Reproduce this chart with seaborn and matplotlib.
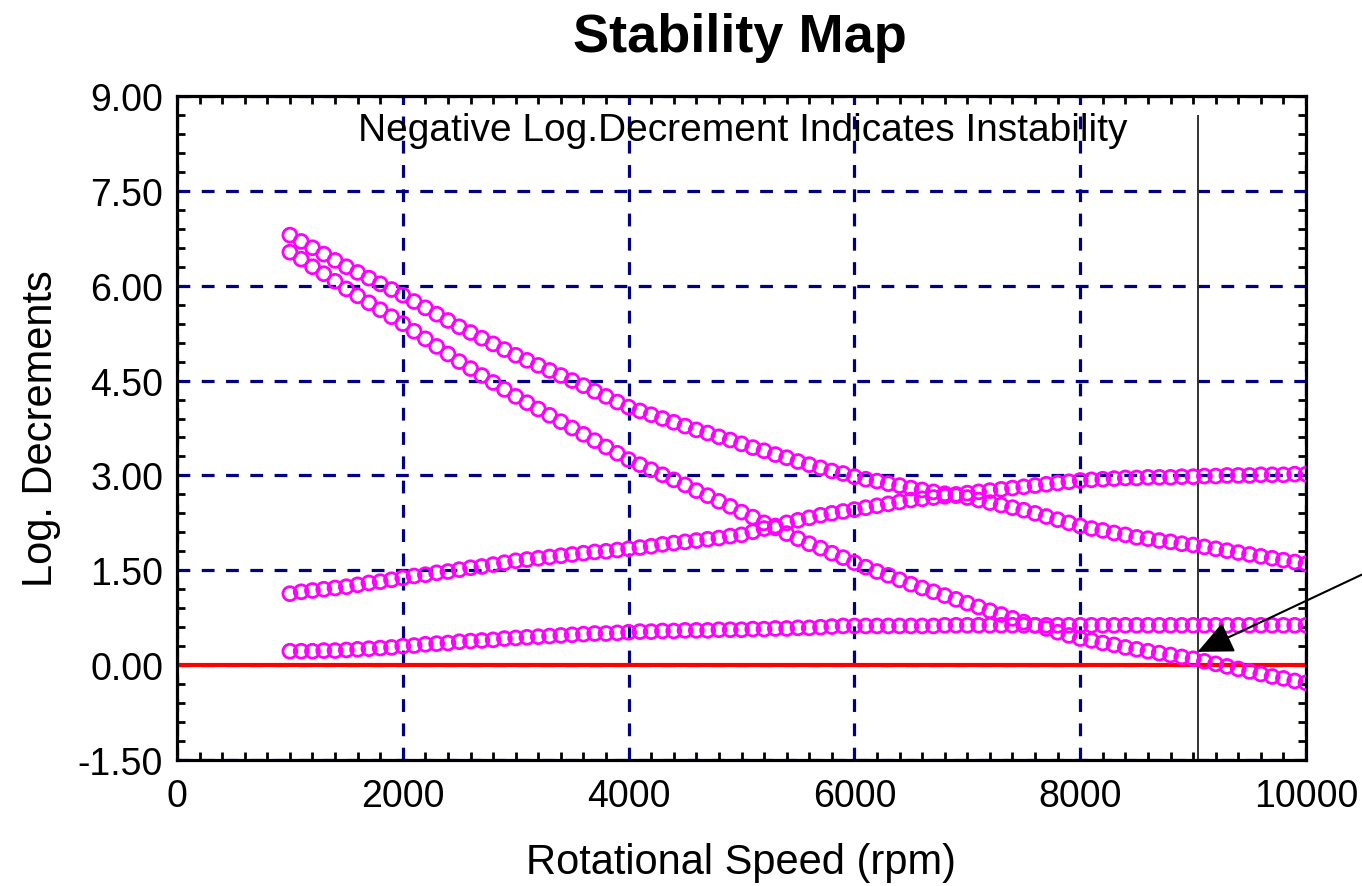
import numpy as np
import pandas as pd
import matplotlib
matplotlib.use("Agg")
import matplotlib.pyplot as plt
from matplotlib.ticker import MultipleLocator, FormatStrFormatter
import seaborn as sns

speed = list(range(1000, 10001, 100))

mode_a = [6.80, 6.70, 6.60, 6.50, 6.40, 6.30,
          6.21, 6.12, 6.03, 5.94, 5.85,
          5.75, 5.65, 5.55, 5.45, 5.35,
          5.26, 5.17, 5.08, 4.99, 4.90,
          4.82, 4.74, 4.66, 4.58, 4.50,
          4.42, 4.33, 4.25, 4.16, 4.08,
          4.02, 3.96, 3.90, 3.84, 3.78,
          3.72, 3.67, 3.61, 3.56, 3.50,
          3.44, 3.39, 3.33, 3.28, 3.22,
          3.17, 3.12, 3.07, 3.03, 2.98,
          2.94, 2.91, 2.87, 2.84, 2.80,
          2.77, 2.74, 2.71, 2.68, 2.65,
          2.61, 2.57, 2.53, 2.49, 2.45,
          2.40, 2.35, 2.30, 2.25, 2.20,
          2.16, 2.13, 2.09, 2.06, 2.02,
          2.00, 1.97, 1.95, 1.92, 1.90,
          1.87, 1.84, 1.81, 1.78, 1.75,
          1.72, 1.69, 1.66, 1.63, 1.60]

mode_b = [6.53, 6.42, 6.30, 6.19, 6.07, 5.95,
          5.84, 5.73, 5.62, 5.51, 5.40,
          5.28, 5.16, 5.04, 4.92, 4.80,
          4.69, 4.58, 4.47, 4.36, 4.25,
          4.15, 4.05, 3.95, 3.85, 3.75,
          3.65, 3.55, 3.45, 3.35, 3.25,
          3.17, 3.09, 3.01, 2.93, 2.85,
          2.76, 2.68, 2.59, 2.51, 2.42,
          2.34, 2.25, 2.17, 2.08, 2.00,
          1.92, 1.85, 1.77, 1.70, 1.62,
          1.55, 1.48, 1.42, 1.35, 1.28,
          1.22, 1.16, 1.10, 1.04, 0.98,
          0.92, 0.86, 0.80, 0.74, 0.68,
          0.63, 0.58, 0.52, 0.47, 0.42,
          0.39, 0.35, 0.32, 0.28, 0.25,
          0.22, 0.19, 0.16, 0.13, 0.10,
          0.06, 0.02, -0.02, -0.06, -0.10,
          -0.14, -0.18, -0.21, -0.25, -0.28]

mode_c = [1.13, 1.16, 1.18, 1.20, 1.22, 1.24,
          1.27, 1.30, 1.32, 1.35, 1.38,
          1.41, 1.43, 1.46, 1.48, 1.51,
          1.54, 1.56, 1.59, 1.62, 1.65,
          1.67, 1.69, 1.71, 1.73, 1.75,
          1.77, 1.79, 1.80, 1.82, 1.84,
          1.86, 1.88, 1.91, 1.93, 1.95,
          1.97, 1.99, 2.01, 2.04, 2.06,
          2.11, 2.16, 2.20, 2.25, 2.29,
          2.33, 2.37, 2.40, 2.43, 2.46,
          2.49, 2.52, 2.55, 2.58, 2.61,
          2.63, 2.65, 2.67, 2.70, 2.72,
          2.74, 2.76, 2.78, 2.80, 2.82,
          2.84, 2.86, 2.88, 2.90, 2.92,
          2.93, 2.94, 2.95, 2.96, 2.96,
          2.97, 2.97, 2.97, 2.98, 2.98,
          2.99, 2.99, 3.00, 3.00, 3.00,
          3.01, 3.01, 3.01, 3.02, 3.02]

mode_d = [0.22, 0.22, 0.22, 0.23, 0.23, 0.24,
          0.25, 0.26, 0.27, 0.28, 0.30,
          0.31, 0.33, 0.34, 0.35, 0.37,
          0.38, 0.39, 0.40, 0.42, 0.43,
          0.44, 0.45, 0.46, 0.47, 0.48,
          0.49, 0.50, 0.50, 0.51, 0.52,
          0.53, 0.53, 0.54, 0.54, 0.55,
          0.55, 0.55, 0.56, 0.56, 0.56,
          0.57, 0.57, 0.58, 0.58, 0.59,
          0.59, 0.60, 0.61, 0.62, 0.62,
          0.62, 0.62, 0.62, 0.62, 0.62,
          0.62, 0.62, 0.63, 0.63, 0.63,
          0.63, 0.63, 0.63, 0.63, 0.63,
          0.63, 0.63, 0.63, 0.63, 0.63,
          0.63, 0.63, 0.63, 0.63, 0.63,
          0.63, 0.63, 0.63, 0.63, 0.63,
          0.63, 0.63, 0.63, 0.63, 0.63,
          0.63, 0.63, 0.63, 0.63, 0.63]

x_ticks = [0, 2000, 4000, 6000, 8000, 10000]
y_ticks = [-1.5, 0.0, 1.5, 3.0, 4.5, 6.0, 7.5, 9.0]
marker_speed = 9040
marker_top = 8.7
arrow_tip = (9040, 0.21)
arrow_tail = (10600, 1.52)

df = pd.concat([
    pd.DataFrame({"speed": speed, "logdec": vals, "mode": name})
    for name, vals in [("A", mode_a), ("B", mode_b), ("C", mode_c), ("D", mode_d)]
], ignore_index=True)

sns.set_style("ticks")
plt.rcParams["font.family"] = ["Liberation Sans", "DejaVu Sans"]
plt.rcParams["text.color"] = "black"
plt.rcParams["axes.labelcolor"] = "black"

fig = plt.figure(figsize=(13.62, 8.87), dpi=100)
ax = fig.add_axes([177 / 1362, 1 - 761 / 887, (1306 - 177) / 1362, (761 - 97) / 887])

ax.set_xlim(0, 10000)
ax.set_ylim(-1.5, 9.0)
ax.set_xticks(x_ticks)
ax.set_yticks(y_ticks)
ax.yaxis.set_major_formatter(FormatStrFormatter("%.2f"))
ax.xaxis.set_minor_locator(MultipleLocator(200))
ax.yaxis.set_minor_locator(MultipleLocator(0.3))

ax.grid(which="major", color="#000080", linestyle=(0, (4, 3.6)), linewidth=2.3)
ax.set_axisbelow(True)

ax.axhline(0, color="#FF0000", linewidth=3.0, zorder=2)
ax.vlines(marker_speed, -1.5, marker_top, color="#333333", linewidth=1.4, zorder=2)

sns.scatterplot(data=df, x="speed", y="logdec", marker="o", s=100,
                facecolor="none", edgecolor="#FF00FF", linewidth=2.0,
                ax=ax, legend=False, zorder=3)

ax.annotate("", xy=arrow_tip, xytext=arrow_tail,
            arrowprops=dict(arrowstyle="-|>,head_length=2.2,head_width=1.0",
                            color="black", lw=1.5, shrinkA=0, shrinkB=0),
            annotation_clip=False, zorder=5)

for s in ax.spines.values():
    s.set_linewidth(2.3)
    s.set_color("black")
    s.set_visible(True)

ax.tick_params(which="both", direction="in", top=True, right=True, colors="black")
ax.tick_params(which="major", length=0, labelsize=27, pad=10)
ax.tick_params(axis="x", which="major", pad=13)
ax.tick_params(which="minor", length=6, width=2)

ax.set_xlabel("Rotational Speed (rpm)", fontsize=30, labelpad=20)
ax.set_ylabel("Log. Decrements", fontsize=30, labelpad=12)

ax.text(0.501, 0.949, "Negative Log.Decrement Indicates Instability",
        transform=ax.transAxes, ha="center", va="center", fontsize=28)

fig.text(740 / 1362, 1 - 38 / 887, "Stability Map", ha="center", va="center",
         fontsize=39, fontweight="bold")

fig.savefig("out.png", dpi=100)
